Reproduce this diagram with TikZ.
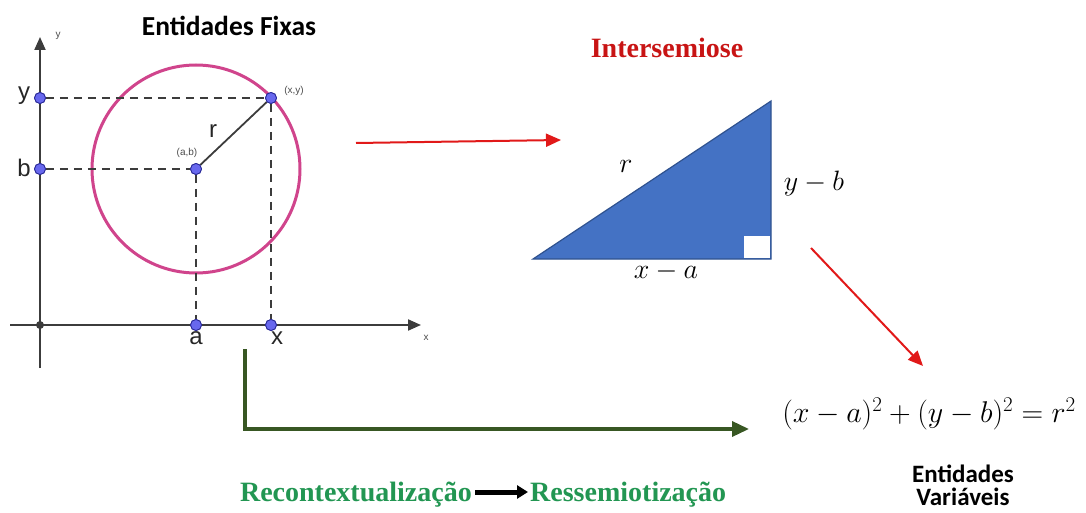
\RequirePackage{fix-cm}
\documentclass[tikz,border=0pt]{standalone}
\usepackage{fontspec}
\setmainfont{Liberation Serif}
\newfontfamily\calib{Carlito}
\newfontfamily\arialf{Liberation Sans}
\usetikzlibrary{arrows.meta}
\definecolor{ptfill}{RGB}{104,104,238}
\definecolor{ptdraw}{RGB}{40,40,150}
\definecolor{circcol}{RGB}{208,68,140}
\definecolor{tribl}{RGB}{68,114,196}
\definecolor{tribd}{RGB}{47,82,143}
\definecolor{redarr}{RGB}{225,25,25}
\definecolor{redtxt}{RGB}{200,20,20}
\definecolor{grtxt}{RGB}{34,150,82}
\definecolor{grarr}{RGB}{56,87,35}
\definecolor{axcol}{RGB}{60,60,60}
\tikzset{
  pt/.style={circle,fill=ptfill,draw=ptdraw,line width=0.8pt,inner sep=0pt,minimum size=11pt},
  dashln/.style={axcol,line width=2pt,dash pattern=on 8pt off 6pt},
  axis/.style={axcol,line width=2pt,-{Triangle[length=13pt,width=11pt]}},
  biglbl/.style={font=\arialf\fontsize{24}{26}\selectfont,text=black!85},
  smlbl/.style={font=\arialf\fontsize{10}{12}\selectfont,text=black!70},
  redarrow/.style={redarr,line width=2pt,-{Triangle[length=15pt,width=13pt]}},
  greenarrow/.style={grarr,line width=3.5pt,-{Triangle[length=17pt,width=15pt]}},
  headtxt/.style={font=\calib\bfseries\fontsize{25}{26}\selectfont},
  sertxt/.style={font=\bfseries\fontsize{28}{30}\selectfont},
  mathtxt/.style={font=\fontsize{28}{30}\selectfont}
}
\begin{document}
\begin{tikzpicture}[x=1pt,y=-1pt]
\useasboundingbox (0,0) rectangle (1086,513);
% axes
\coordinate (xs) at (10,325);
\coordinate (xe) at (421,325);
\coordinate (ys) at (40,368);
\coordinate (ye) at (40,37);
\draw[axis] (xs) -- (xe);
\draw[axis] (ys) -- (ye);
\node[smlbl] (ylab) at (58,36) {y};
\node[smlbl] (xlab) at (426,338) {x};
% circle
\draw[circcol,line width=3pt] (196,169) circle[radius=104];
% points
\node[pt] (py) at (40,98) {};
\node[pt] (pb) at (40,169) {};
\node[pt] (pab) at (196,169) {};
\node[pt] (pxy) at (271,98) {};
\node[pt] (pa) at (196,325) {};
\node[pt] (px) at (271,325) {};
\node[circle,fill=axcol,inner sep=0pt,minimum size=8pt] (po) at (40,325) {};
% dashed
\draw[dashln] (py) -- (pxy);
\draw[dashln] (pb) -- (pab);
\draw[dashln] (pab) -- (pa);
\draw[dashln] (pxy) -- (px);
\draw[axcol,line width=1.8pt] (pab) -- (pxy);
% redraw points on top
\node[pt] at (py) {};
\node[pt] at (pb) {};
\node[pt] at (pab) {};
\node[pt] at (pxy) {};
\node[pt] at (pa) {};
\node[pt] at (px) {};
% labels
\node[biglbl] (ly) at (24,96) {y};
\node[biglbl] (lb) at (24,168) {b};
\node[biglbl] (la) at (196,338) {a};
\node[biglbl] (lx) at (277,338) {x};
\node[biglbl] (lr) at (213,131) {r};
\node[smlbl] (lab) at (187,153) {(a,b)};
\node[smlbl] (lxy) at (294,91) {(x,y)};
\node[headtxt,font=\calib\bfseries\fontsize{27.5}{28}\selectfont] (fix) at (229,26) {Entidades Fixas};
% triangle
\coordinate (ta) at (533,259);
\coordinate (tb) at (771,259);
\coordinate (tc) at (771,101);
\fill[tribl] (ta) -- (tb) -- (tc) -- cycle;
\draw[tribd,line width=1.2pt,line join=miter] (ta) -- (tb) -- (tc) -- cycle;
\fill[white] (744,236) rectangle (769.5,257.5);
\node[mathtxt] (tr) at (626,166) {$r$};
\node[mathtxt] (tyb) at (814,183) {$y-b$};
\node[mathtxt] (txa) at (666,271) {$x-a$};
\node[sertxt,text=redtxt] (inter) at (667,48) {Intersemiose};
% red arrows
\coordinate (r1s) at (356,143);
\coordinate (r1e) at (561,140);
\draw[redarrow] (r1s) -- (r1e);
\coordinate (r2s) at (811,248);
\coordinate (r2e) at (923,366);
\draw[redarrow] (r2s) -- (r2e);
% equation
\node[font=\fontsize{30}{32}\selectfont] (eq) at (929,414) {$(x-a)^2+(y-b)^2=r^2$};
\node[headtxt,align=center] (var) at (963,485) {Entidades\\[-3pt]Variáveis};
% green arrow
\coordinate (g1) at (245,349);
\coordinate (g2) at (245,429);
\coordinate (g3) at (749,429);
\draw[greenarrow] (g1) -- (g2) -- (g3);
% bottom texts
\node[sertxt,text=grtxt,anchor=base east,inner sep=0pt] (rec) at (472,501) {Recontextualização};
\node[sertxt,text=grtxt,anchor=base west,inner sep=0pt] (res) at (530,501) {Ressemiotização};
\draw[black,line width=5pt,-{Triangle[length=11pt,width=13pt]}] ([xshift=3pt,yshift=9pt]rec.base east) -- ([xshift=-2pt,yshift=9pt]res.base west);
\end{tikzpicture}
\end{document}
